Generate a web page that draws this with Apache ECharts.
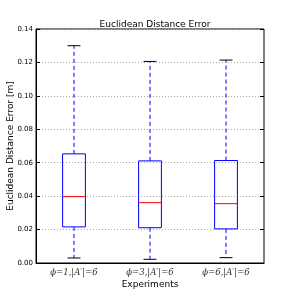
<!DOCTYPE html>
<html><head><meta charset="utf-8">
<script src="https://cdn.jsdelivr.net/npm/echarts@6/dist/echarts.min.js"></script>
<style>html,body{margin:0;padding:0;background:#fff}#c{width:293px;height:293px}</style>
</head><body><div id="c"></div>
<script>
var categories = ['\u03d5=1,|A\u2032|=6', '\u03d5=3,|A\u2032|=6', '\u03d5=6,|A\u2032|=6'];
var whiskerLow = [0.003, 0.0022, 0.0032];
var q1 = [0.0216, 0.0211, 0.0204];
var median = [0.0397, 0.0361, 0.0355];
var q3 = [0.0653, 0.0611, 0.0613];
var whiskerHigh = [0.130, 0.1206, 0.1214];
var yTicks = [0, 0.02, 0.04, 0.06, 0.08, 0.10, 0.12, 0.14];

var data = categories.map(function (c, i) {
  return [i, whiskerLow[i], q1[i], median[i], q3[i], whiskerHigh[i]];
});

var chart = echarts.init(document.getElementById('c'));
chart.setOption({
  animation: false,
  title: {
    text: 'Euclidean Distance Error', left: 150, top: 15, textAlign: 'center',
    textStyle: { fontSize: 9, fontWeight: 'normal', color: '#000', fontFamily: 'DejaVu Sans' }
  },
  grid: { left: 36, right: 29, top: 29, bottom: 30, containLabel: false, outerBoundsMode: 'none',
    show: true, borderColor: '#000', borderWidth: 1, backgroundColor: 'transparent' },
  xAxis: [{
    type: 'category', data: categories, position: 'bottom',
    name: 'Experiments', nameLocation: 'middle', nameGap: 17, nameMoveOverlap: false,
    nameTextStyle: { fontSize: 9, color: '#000', fontFamily: 'DejaVu Sans' },
    axisLine: { lineStyle: { color: '#000' } },
    axisTick: { inside: true, alignWithLabel: true, length: 4, lineStyle: { color: '#000' } },
    axisLabel: { fontSize: 8.5, color: '#333', margin: 5, fontFamily: 'DejaVu Serif', fontStyle: 'italic', interval: 0 },
    splitLine: { show: false }
  }, {
    type: 'category', data: categories, position: 'top',
    axisLine: { show: false },
    axisTick: { inside: true, alignWithLabel: true, length: 4, lineStyle: { color: '#000' } },
    axisLabel: { show: false }
  }],
  yAxis: [{
    type: 'value', min: 0, max: 0.14, interval: 0.02,
    name: 'Euclidean Distance Error [m]', nameLocation: 'middle', nameGap: 21, nameMoveOverlap: false,
    nameTextStyle: { fontSize: 9, color: '#000', fontFamily: 'DejaVu Sans' },
    axisLine: { show: true, lineStyle: { color: '#000' } },
    axisTick: { show: true, inside: true, length: 4, lineStyle: { color: '#000' } },
    axisLabel: { fontSize: 7, color: '#000', margin: 3, fontFamily: 'DejaVu Sans',
      formatter: function (v) { return v.toFixed(2); } },
    splitLine: { show: true, lineStyle: { color: '#aaa', type: [1, 2], width: 1 } }
  }, {
    type: 'value', min: 0, max: 0.14, interval: 0.02, position: 'right',
    axisLine: { show: false },
    axisTick: { show: true, inside: true, length: 4, lineStyle: { color: '#000' } },
    axisLabel: { show: false }, splitLine: { show: false }
  }],
  series: [{
    type: 'custom',
    data: data,
    encode: { x: 0, y: [1, 2, 3, 4, 5] },
    renderItem: function (params, api) {
      var i = api.value(0);
      var pLow = api.coord([i, api.value(1)]);
      var pQ1 = api.coord([i, api.value(2)]);
      var pMed = api.coord([i, api.value(3)]);
      var pQ3 = api.coord([i, api.value(4)]);
      var pHigh = api.coord([i, api.value(5)]);
      var bw = api.size([1, 0])[0] * 0.3;
      var cw = api.size([1, 0])[0] * 0.17;
      var x = pMed[0];
      var dash = { stroke: '#0000ff', lineWidth: 1, lineDash: [4, 3] };
      return {
        type: 'group',
        children: [
          { type: 'line', shape: { x1: x, y1: pQ3[1], x2: x, y2: pHigh[1] }, style: dash },
          { type: 'line', shape: { x1: x, y1: pQ1[1], x2: x, y2: pLow[1] }, style: dash },
          { type: 'line', shape: { x1: x - cw / 2, y1: pHigh[1], x2: x + cw / 2, y2: pHigh[1] }, style: { stroke: '#000', lineWidth: 1 } },
          { type: 'line', shape: { x1: x - cw / 2, y1: pLow[1], x2: x + cw / 2, y2: pLow[1] }, style: { stroke: '#000', lineWidth: 1 } },
          { type: 'rect', shape: { x: x - bw / 2, y: pQ3[1], width: bw, height: pQ1[1] - pQ3[1] }, style: { fill: 'none', stroke: '#0000ff', lineWidth: 1 } },
          { type: 'line', shape: { x1: x - bw / 2, y1: pMed[1], x2: x + bw / 2, y2: pMed[1] }, style: { stroke: '#ff0000', lineWidth: 1 } }
        ]
      };
    }
  }]
});
</script>
</body></html>
